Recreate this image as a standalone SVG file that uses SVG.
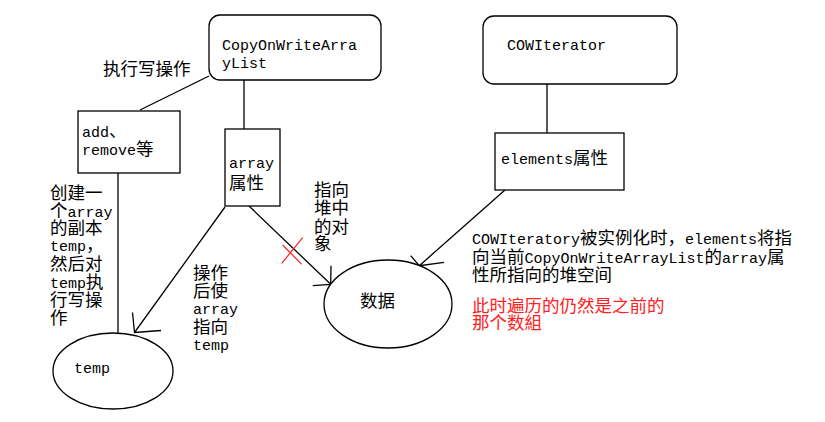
<svg xmlns="http://www.w3.org/2000/svg" width="825" height="422" viewBox="0 0 825 422">
<style>
.shape{fill:#fff;stroke:#000;stroke-width:1.3}
.ln{fill:none;stroke:#000;stroke-width:1.3}
.red{fill:none;stroke:#f22;stroke-width:1.2}
text{font-family:"Liberation Mono","Noto Sans CJK SC",monospace;font-size:15px;fill:#000}
.c{font-family:"Noto Sans CJK SC","Noto Sans",sans-serif;font-size:17.5px}
.r{fill:#f22}
</style>
<rect width="825" height="422" fill="#fff"/>
<g id="connectors">
  <path class="ln" d="M209,76 L140,110"/>
  <path class="ln" d="M244,80 L244,129"/>
  <path class="ln" d="M118,173 L118,333"/>
  <path class="ln" d="M225,207 L134.5,332.5 M132.5,312.5 L134.5,332.5 L161,330.5"/>
  <path class="ln" d="M249,206 L330.7,284.3 M331,265.7 L330.7,284.3 L312.7,285.7"/>
  <path class="ln" d="M547,84 L547,133"/>
  <path class="ln" d="M505,190 L419.3,265.7 M410.7,255.7 L419.3,265.7 L444,262.3"/>
  <path class="red" d="M282.7,245 L301.7,264.3 M302.7,237.7 L281.7,263.3"/>
</g>
<g id="copyonwrite">
  <rect class="shape" x="209" y="15" width="172" height="65" rx="11"/>
  <text><tspan x="222" y="50">CopyOnWriteArra</tspan><tspan x="222" y="68">yList</tspan></text>
</g>
<g id="label-write">
  <text x="103" y="74.5"><tspan class="c">执行写操作</tspan></text>
</g>
<g id="add-remove">
  <rect class="shape" x="78" y="111" width="102" height="62"/>
  <text><tspan x="82" y="136.5">add<tspan class="c">、</tspan></tspan><tspan x="82" y="155">remove<tspan class="c">等</tspan></tspan></text>
</g>
<g id="array-attr">
  <rect class="shape" x="225" y="129" width="55" height="77"/>
  <text><tspan x="229" y="168">array</tspan><tspan x="229" y="188.5" class="c">属性</tspan></text>
</g>
<g id="label-copy">
  <text><tspan x="50" y="199" class="c">创建一</tspan><tspan x="50" y="216.5"><tspan class="c">个</tspan>array</tspan><tspan x="50" y="234" class="c">的副本</tspan><tspan x="50" y="251">temp<tspan class="c">，</tspan></tspan><tspan x="50" y="270" class="c">然后对</tspan><tspan x="50" y="288">temp<tspan class="c">执</tspan></tspan><tspan x="50" y="305.5" class="c">行写操</tspan><tspan x="50" y="323.5" class="c">作</tspan></text>
</g>
<g id="label-point-temp">
  <text><tspan x="193" y="278.5" class="c">操作</tspan><tspan x="193" y="296.5" class="c">后使</tspan><tspan x="193" y="313.5">array</tspan><tspan x="193" y="332.5" class="c">指向</tspan><tspan x="193" y="350">temp</tspan></text>
</g>
<g id="label-point-heap">
  <text><tspan x="314" y="196" class="c">指向</tspan><tspan x="314" y="213.5" class="c">堆中</tspan><tspan x="314" y="232.5" class="c">的对</tspan><tspan x="314" y="250" class="c">象</tspan></text>
</g>
<g id="temp">
  <ellipse class="shape" cx="113" cy="371" rx="60" ry="38"/>
  <text x="74" y="373">temp</text>
</g>
<g id="data">
  <ellipse class="shape" cx="388" cy="304" rx="64" ry="44"/>
  <text x="360" y="307"><tspan class="c">数据</tspan></text>
</g>
<g id="cowiterator">
  <rect class="shape" x="483" y="16" width="194" height="68" rx="11"/>
  <text x="507" y="50">COWIterator</text>
</g>
<g id="elements-attr">
  <rect class="shape" x="495" y="133" width="129" height="57"/>
  <text x="501" y="164">elements<tspan class="c">属性</tspan></text>
</g>
<g id="label-iterator">
  <text><tspan x="472" y="243.5">COWIteratory<tspan class="c">被实例化时，</tspan>elements<tspan class="c">将指</tspan></tspan><tspan x="472" y="262.5"><tspan class="c">向当前</tspan>CopyOnWriteArrayList<tspan class="c">的</tspan>array<tspan class="c">属</tspan></tspan><tspan x="472" y="280.5" class="c">性所指向的堆空间</tspan></text>
  <text class="r"><tspan x="472" y="311.5" class="c">此时遍历的仍然是之前的</tspan><tspan x="472" y="329" class="c">那个数組</tspan></text>
</g>
</svg>
